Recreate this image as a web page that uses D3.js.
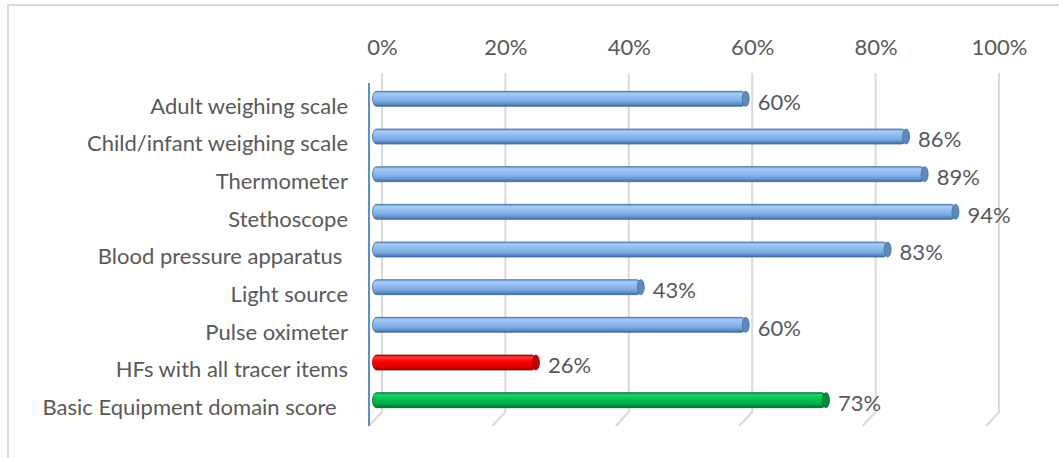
<!DOCTYPE html>
<html>
<head>
<meta charset="utf-8">
<script src="https://cdn.jsdelivr.net/npm/d3@7"></script>
<style>
  body { margin: 0; background: #fff; }
  text { font-family: Lato, "Open Sans", sans-serif; fill: #595959; white-space: pre; }
</style>
</head>
<body>
<svg id="chart"></svg>
<script>
const W = 1059;
const H = 458;

// data
const categories = [
  "Adult weighing scale",
  "Child/infant weighing scale",
  "Thermometer",
  "Stethoscope",
  "Blood pressure apparatus ",
  "Light source",
  "Pulse oximeter",
  "HFs with all tracer items",
  "Basic Equipment domain score  "
];
const values = [0.60, 0.86, 0.89, 0.94, 0.83, 0.43, 0.60, 0.26, 0.73];
const barKinds = ["blue", "blue", "blue", "blue", "blue", "blue", "blue", "red", "green"];
const tickValues = [0, 0.2, 0.4, 0.6, 0.8, 1.0];

// fake 3d: back wall holds the gridlines, front plane holds the labels
const back = { left: 382, right: 999, top: 73, bottom: 412 };
const DX = -13, DY = 14;
const BAR_H = 15;
const FONT = 22;

const svg = d3.select("#chart")
  .attr("width", W)
  .attr("height", H);

// colour ramps for the cylinder look
const ramps = {
  blue:  { stops: ["#6891c4", "#a4cbf7", "#8cb9ed", "#78a7df", "#5a88bf", "#3b6593"], cap: "#5d89bc", line: "#44729f" },
  red:   { stops: ["#c80000", "#ff3a3a", "#ff0000", "#ea0000", "#c00000", "#8a0000"], cap: "#c00000", line: "#9a0000" },
  green: { stops: ["#009a40", "#19d468", "#00c050", "#00b04a", "#00903c", "#005e28"], cap: "#008a3a", line: "#006a2c" }
};
const offsets = [0, 0.15, 0.45, 0.7, 0.88, 1];

const defs = svg.append("defs");
Object.entries(ramps).forEach(([k, r]) => {
  const g = defs.append("linearGradient")
    .attr("id", "grad-" + k)
    .attr("x1", 0).attr("y1", 0).attr("x2", 0).attr("y2", 1);
  r.stops.forEach((c, i) => g.append("stop").attr("offset", offsets[i]).attr("stop-color", c));
});

// chart frame
svg.append("rect")
  .attr("x", 8).attr("y", 5)
  .attr("width", W + 40).attr("height", H + 40)
  .attr("fill", "none")
  .attr("stroke", "#d9d9d9")
  .attr("stroke-width", 2);

const x = d3.scaleLinear().domain([0, 1]).range([back.left, back.right]);
const yBack = d3.scaleBand().domain(categories).range([back.top, back.bottom]);

/* gridlines with the floor slant */
svg.append("g")
  .selectAll("path")
  .data(tickValues)
  .join("path")
  .attr("d", d => `M${x(d)},${back.top}V${back.bottom}l${DX},${DY}`)
  .attr("fill", "none")
  .attr("stroke", "#d9d9d9")
  .attr("stroke-width", 2);

/* top axis labels */
const axisTop = d3.axisTop(x)
  .tickValues(tickValues)
  .tickFormat(d3.format(".0%"))
  .tickSize(0)
  .tickPadding(0);

svg.append("g")
  .attr("transform", `translate(0, 47)`)
  .call(axisTop)
  .call(g => g.select(".domain").remove())
  .call(g => g.selectAll("text")
    .attr("dy", "0.35em")
    .attr("font-size", FONT)
    .attr("font-family", null));

/* left value axis (front plane) */
svg.append("line")
  .attr("x1", back.left + DX).attr("x2", back.left + DX)
  .attr("y1", back.top + 10).attr("y2", back.bottom + DY)
  .attr("stroke", "#5b8fd3")
  .attr("stroke-width", 2);

// category labels on the front plane
svg.append("g")
  .selectAll("text")
  .data(categories)
  .join("text")
  .attr("x", 348)
  .attr("y", d => yBack(d) + yBack.bandwidth() / 2 + DY)
  .attr("dy", "0.35em")
  .attr("text-anchor", "end")
  .attr("font-size", FONT)
  .text(d => d);

/* bars sit half way into the depth */
const midX = v => x(v) + DX / 2;
const midY = c => yBack(c) + yBack.bandwidth() / 2 + DY / 2;

const bars = svg.append("g")
  .selectAll("g")
  .data(categories.map((c, i) => ({ c, v: values[i], k: barKinds[i] })))
  .join("g");

bars.append("rect")
  .attr("x", d => midX(0) - 3)
  .attr("y", d => midY(d.c) - BAR_H / 2)
  .attr("width", d => midX(d.v) - midX(0) + 3)
  .attr("height", BAR_H)
  .attr("rx", 4).attr("ry", BAR_H / 2)
  .attr("fill", d => `url(#grad-${d.k})`)
  .attr("stroke", d => ramps[d.k].line)
  .attr("stroke-width", 0.8);

// end cap of the cylinder
bars.append("ellipse")
  .attr("cx", d => midX(d.v))
  .attr("cy", d => midY(d.c))
  .attr("rx", 3.5)
  .attr("ry", BAR_H / 2)
  .attr("fill", d => ramps[d.k].cap)
  .attr("stroke", d => ramps[d.k].line)
  .attr("stroke-width", 0.8);

bars.append("text")
  .attr("x", d => midX(d.v) + 12)
  .attr("y", d => midY(d.c) + 3)
  .attr("dy", "0.35em")
  .attr("font-size", FONT)
  .text(d => d3.format(".0%")(d.v));
</script>
</body>
</html>
